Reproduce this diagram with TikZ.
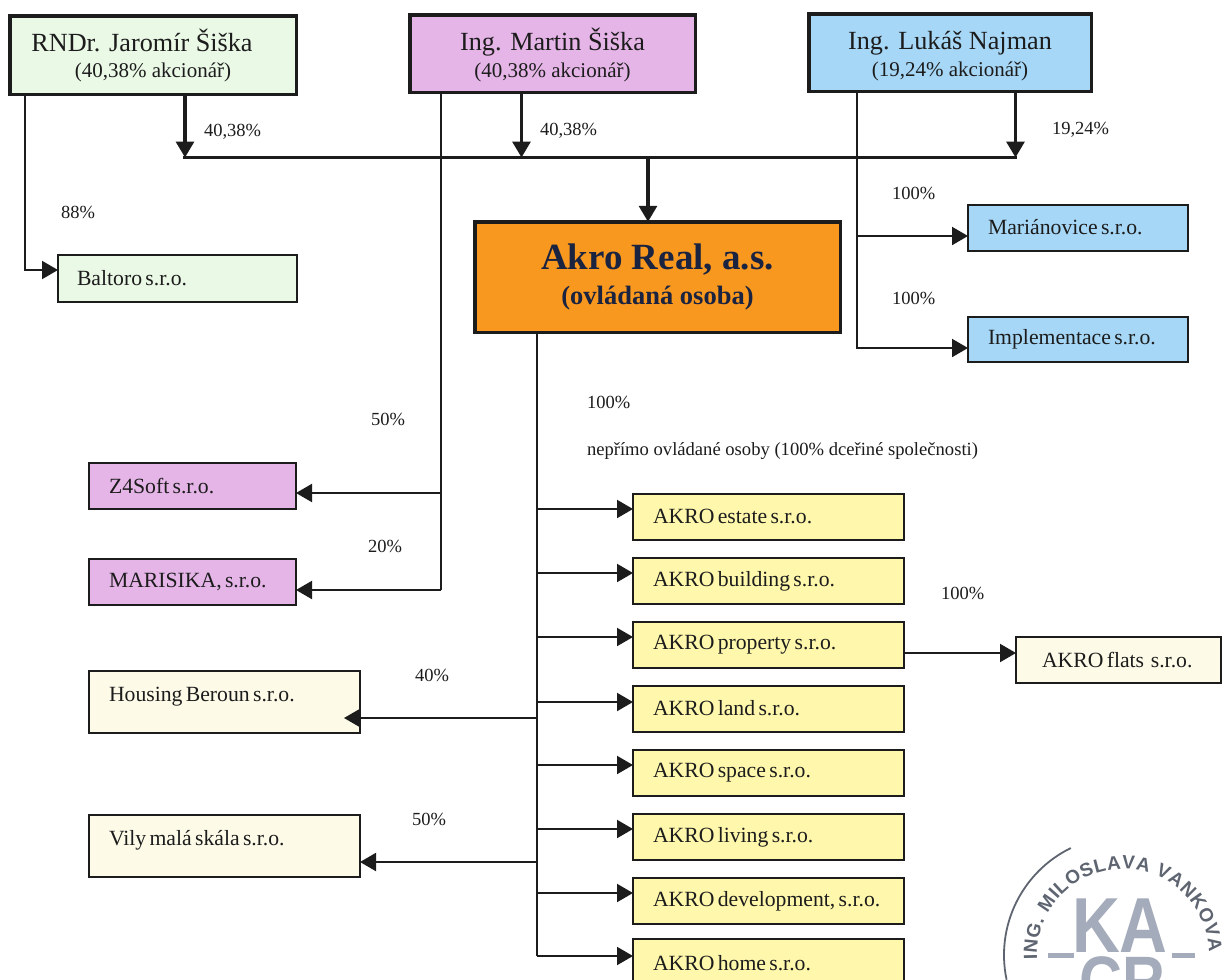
\documentclass[tikz,border=0pt]{standalone}
\usepackage{fontspec}
\setmainfont{Liberation Serif}
\newfontfamily\stampfont{Liberation Sans}
\usetikzlibrary{arrows.meta,calc,decorations.text}
\definecolor{gjaro}{HTML}{EAF8E6}
\definecolor{pmart}{HTML}{E6B5E8}
\definecolor{blukas}{HTML}{A6D7F6}
\definecolor{oakro}{HTML}{F9981F}
\definecolor{yakro}{HTML}{FFF8AC}
\definecolor{cream}{HTML}{FDFBE8}
\definecolor{inkk}{HTML}{1C1C1C}
\definecolor{navy}{HTML}{1A2340}
\definecolor{stampc}{HTML}{A4ABBA}
\definecolor{stampd}{HTML}{5E6470}
\tikzset{
  every node/.style={outer sep=0pt,inner sep=0pt,text=inkk},
  box/.style={draw=inkk,line width=2pt,align=left},
  headbox/.style={draw=inkk,line width=3.5pt,align=center},
  lab/.style={font=\fontsize{18.5}{22}\selectfont,anchor=west},
  thinline/.style={draw=inkk,line width=2pt},
  thickline/.style={draw=inkk,line width=3.3pt},
  tip/.style={-{Triangle[length=16pt,width=18pt]}},
}
\newcommand{\bx}[8]{% name x1 y1 x2 y2 style pad text
  \node[#6,minimum width=#4pt-#2pt-2pt,minimum height=#5pt-#3pt-2pt,
    text width=#4pt-#2pt-#7pt-2pt,anchor=north west] (#1) at ($(#2,#3)+(1,1)$)
    {\fontsize{21.7}{24}\selectfont #8};}
\newcommand{\headtxt}[3]{\fontsize{26.2}{30}\selectfont #2\\[#1]\fontsize{21}{23}\selectfont #3}
\begin{document}
\begin{tikzpicture}[x=1pt,y=-1pt]
\useasboundingbox (0,0) rectangle (1224,980);
\fill[white] (0,0) rectangle (1224,980);
% owners
\node[headbox,fill=gjaro,minimum width=286.5pt,minimum height=78.5pt] (jaro) at (153,55)
  {\headtxt{10pt}{RNDr. Jaromír Šiška\hspace*{22pt}}{(40,38\% akcionář)}};
\node[headbox,fill=pmart,minimum width=285.5pt,minimum height=77.5pt] (mart) at (552.5,53.5)
  {\headtxt{6pt}{\rule{0pt}{26pt}Ing. Martin Šiška}{(40,38\% akcionář)}};
\node[headbox,fill=blukas,minimum width=282.5pt,minimum height=77.5pt] (luk) at (950,52.5)
  {\headtxt{6pt}{\rule{0pt}{26pt}Ing. Lukáš Najman}{(19,24\% akcionář)}};
% main
\node[headbox,fill=oakro,minimum width=365.5pt,minimum height=110.5pt,text=navy] (akro) at (657.5,277)
  {\fontsize{37}{40}\selectfont\bfseries Akro Real, a.s.\\[9pt]\fontsize{26.5}{30}\selectfont\bfseries (ovládaná osoba)};
% side boxes
\bx{balt}{57}{254}{298}{303}{box,fill=gjaro}{0}{\hspace*{19pt}Baltoro s.r.o.}
\bx{mari}{967}{204}{1189}{252}{box,fill=blukas}{0}{\hspace*{20pt}\raisebox{2pt}{Mariánovice s.r.o.}}
\bx{impl}{967}{316}{1189}{363}{box,fill=blukas}{0}{\hspace*{20pt}Implementace s.r.o.}
\bx{z4}{88}{462}{297}{510}{box,fill=pmart}{0}{\hspace*{20pt}Z4Soft s.r.o.}
\bx{mrs}{88}{558}{297}{606}{box,fill=pmart}{0}{\hspace*{20pt}MARISIKA, s.r.o.}
\bx{hous}{88}{670}{361}{734}{box,fill=cream}{0}{\hspace*{20pt}\raisebox{16pt}{Housing Beroun s.r.o.}}
\bx{vily}{88}{814}{361}{878}{box,fill=cream}{0}{\hspace*{20pt}\raisebox{16pt}{Vily malá skála s.r.o.}}
\bx{est}{632}{493}{905}{541}{box,fill=yakro}{0}{\hspace*{20pt}\raisebox{2pt}{AKRO estate s.r.o.}}
\bx{bld}{632}{557}{905}{605}{box,fill=yakro}{0}{\hspace*{20pt}\raisebox{2pt}{AKRO building s.r.o.}}
\bx{prop}{632}{621}{905}{669}{box,fill=yakro}{0}{\hspace*{20pt}\raisebox{2pt}{AKRO property s.r.o.}}
\bx{land}{632}{685}{905}{733}{box,fill=yakro}{0}{\hspace*{20pt}\raisebox{2pt}{AKRO land s.r.o.}}
\bx{spc}{632}{749}{905}{797}{box,fill=yakro}{0}{\hspace*{20pt}\raisebox{2pt}{AKRO space s.r.o.}}
\bx{liv}{632}{813}{905}{861}{box,fill=yakro}{0}{\hspace*{20pt}\raisebox{2pt}{AKRO living s.r.o.}}
\bx{dev}{632}{877}{905}{925}{box,fill=yakro}{0}{\hspace*{20pt}\raisebox{2pt}{AKRO development, s.r.o.}}
\begin{scope}
\clip (0,0) rectangle (1224,980);
\bx{home}{632}{938}{905}{990}{box,fill=yakro}{0}{\hspace*{20pt}\raisebox{2pt}{AKRO home s.r.o.}}
\end{scope}
\bx{flats}{1015}{636}{1222}{684}{box,fill=cream}{0}{\hspace*{26pt}\raisebox{1pt}{AKRO flats\ \ s.r.o.}}
% bus
\coordinate (busL) at (185,157.5);
\coordinate (busR) at (1015.5,157.5);
\draw[thickline,tip] (jaro.south -| busL) -- (busL);
\draw[thickline,tip] (luk.south -| busR) -- (busR);
\coordinate (busM) at (521.5,157.5);
\draw[thickline,tip] (mart.south -| busM) -- (busM);
\draw[thickline,line cap=butt] ($(busL)+(-1.7,0)$) -- ($(busR)+(1.7,0)$);
\coordinate (busA) at (648,157.5);
\draw[thickline,tip] (busA) -- (akro.north -| busA);
% personal holdings
\coordinate (jl) at (25,95);
\draw[thinline,tip] (jl) |- ($(balt.west)+(0,-8.5)$);
\coordinate (ml) at (441,92);
\draw[thinline] (ml) -- (ml |- 0,590);
\draw[thinline,tip] (ml |- z4.east) ++(0,7) -- ($(z4.east)+(0,7)$);
\draw[thinline,tip] (ml |- mrs.east) ++(0,8) -- ($(mrs.east)+(0,8)$);
\coordinate (ll) at (857,92);
\draw[thinline,tip] (ll) |- ($(mari.west)+(0,8)$);
\draw[thinline,tip] (ll) |- ($(impl.west)+(0,8.5)$);
% trunk
\coordinate (tr) at (537,333);
\draw[thinline] (tr) -- (tr |- 0,956);
\draw[thinline,tip] (tr |- est.west) ++(0,-8) -- ($(est.west)+(0,-8)$);
\draw[thinline,tip] (tr |- bld.west) ++(0,-8) -- ($(bld.west)+(0,-8)$);
\draw[thinline,tip] (tr |- prop.west) ++(0,-8) -- ($(prop.west)+(0,-8)$);
\draw[thinline,tip] (tr |- land.west) ++(0,-7) -- ($(land.west)+(0,-7)$);
\draw[thinline,tip] (tr |- spc.west) ++(0,-8) -- ($(spc.west)+(0,-8)$);
\draw[thinline,tip] (tr |- liv.west) ++(0,-8) -- ($(liv.west)+(0,-8)$);
\draw[thinline,tip] (tr |- dev.west) ++(0,-8) -- ($(dev.west)+(0,-8)$);
\draw[thinline,tip] (tr |- 0,956) -- (632,956 -| home.west);
\draw[thinline,tip] (tr |- hous.east) ++(0,16) -- ($(hous.east)+(-16,16)$);
\draw[thinline,tip] (tr |- vily.east) ++(0,16) -- ($(vily.east)+(0,16)$);
\draw[thinline,tip] ($(prop.east)+(0,8)$) -- (flats.west |- 0,653);
% labels
\node[lab] (p1) at (204,132) {40,38\%};
\node[lab] (p2) at (540,131) {40,38\%};
\node[lab] (p3) at (1052,130) {19,24\%};
\node[lab] (p4) at (61,212) {88\%};
\node[lab] (p5) at (892,193) {100\%};
\node[lab] (p6) at (892,298) {100\%};
\node[lab] (p7) at (587,402) {100\%};
\node[lab,font=\fontsize{18.6}{22}\selectfont] (p8) at (587,451) {nepřímo ovládané osoby (100\% dceřiné společnosti)};
\node[lab] (p9) at (371,419) {50\%};
\node[lab] (p10) at (368,546) {20\%};
\node[lab] (p11) at (415,675) {40\%};
\node[lab] (p12) at (412,819) {50\%};
\node[lab] (p13) at (941,593) {100\%};
% stamp
\begin{scope}
\clip (0,0) rectangle (1224,980);
\coordinate (sc) at (1123,955);
\draw[stampd,line width=1.8pt] (sc) ++(192:119pt) arc[start angle=192,end angle=116,radius=119pt];
\path[decorate,decoration={text along path,text align={fit to path},
   text={|\stampfont\bfseries\fontsize{19}{19}\selectfont\color{stampd}|ING. MILOSLAVA VANKOVA}}]
   (sc) ++(183:86pt) arc[start angle=183,end angle=2,radius=86pt];
\draw[stampc,line width=5pt] (1048,955) -- (1074,955) (1172,955) -- (1195,955);
\node[font=\stampfont\bfseries\fontsize{78}{78}\selectfont,text=stampc,xscale=.85] (ka) at (1120,926) {KA};
\node[font=\stampfont\bfseries\fontsize{70}{70}\selectfont,text=stampc,xscale=.85,anchor=north] (cr) at (1122,957) {CR};
\end{scope}
\end{tikzpicture}
\end{document}
